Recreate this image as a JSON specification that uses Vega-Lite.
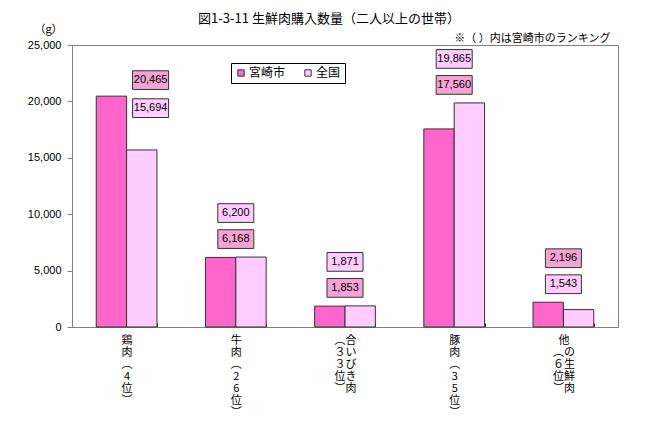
{
  "$schema": "https://vega.github.io/schema/vega-lite/v6.json",
  "width": 546,
  "height": 282,
  "padding": {"left": 27, "top": 13, "right": 5, "bottom": 5},
  "background": "white",
  "title": {
    "text": "図1-3-11 生鮮肉購入数量（二人以上の世帯）",
    "font": "Noto Sans CJK JP",
    "fontSize": 13,
    "fontWeight": "normal",
    "color": "#000",
    "dx": -16,
    "offset": -3
  },
  "data": {
    "values": [
      {"category": "鶏肉(4位)", "series": "宮崎市", "value": 20465},
      {"category": "鶏肉(4位)", "series": "全国", "value": 15694},
      {"category": "牛肉(26位)", "series": "宮崎市", "value": 6168},
      {"category": "牛肉(26位)", "series": "全国", "value": 6200},
      {"category": "合いびき肉(33位)", "series": "宮崎市", "value": 1853},
      {"category": "合いびき肉(33位)", "series": "全国", "value": 1871},
      {"category": "豚肉(35位)", "series": "宮崎市", "value": 17560},
      {"category": "豚肉(35位)", "series": "全国", "value": 19865},
      {"category": "他の生鮮肉(6位)", "series": "宮崎市", "value": 2196},
      {"category": "他の生鮮肉(6位)", "series": "全国", "value": 1543}
    ]
  },
  "resolve": {"axis": {"x": "independent", "y": "independent"}},
  "layer": [
    {
      "mark": {"type": "bar", "stroke": "#333333", "strokeWidth": 1},
      "encoding": {
        "x": {
          "field": "category", "type": "nominal", "sort": null,
          "scale": {"paddingInner": 0.444, "paddingOuter": 0.222},
          "axis": {
            "title": null,
            "labelAngle": 0,
            "labelBaseline": "top",
            "labelAlign": "center",
            "labelLineHeight": 12,
            "labelFont": "Noto Sans CJK JP",
            "labelFontSize": 11,
            "labelColor": "#000",
            "labelPadding": 11,
            "tickBand": "extent",
            "tickSize": -4,
            "tickColor": "#333333",
            "domainColor": "#808080",
            "labelExpr": "datum.value == null ? '' : datum.value === '合いびき肉(33位)' ? ['︵合','３い','３び','位き','︶肉'] : datum.value === '他の生鮮肉(6位)' ? ['　他','︵の','６生','位鮮','︶肉'] : split(replace(replace(datum.value, '(', '︵'), ')', '︶'), '')"
          }
        },
        "xOffset": {"field": "series", "type": "nominal", "sort": ["宮崎市", "全国"], "scale": {"paddingInner": 0}},
        "y": {
          "field": "value", "type": "quantitative",
          "scale": {"domain": [0, 25000], "nice": false},
          "axis": {
            "title": "（g）",
            "titleAngle": 0,
            "titleX": -24,
            "titleY": -16,
            "titleAlign": "center",
            "titleBaseline": "middle",
            "titleFont": "Noto Sans CJK JP",
            "titleFontSize": 11,
            "titleFontWeight": "normal",
            "titleColor": "#000",
            "values": [0, 5000, 10000, 15000, 20000, 25000],
            "format": ",d",
            "labelFont": "Liberation Sans",
            "labelFontSize": 11,
            "labelColor": "#000",
            "labelPadding": 6,
            "tickSize": 5,
            "tickColor": "#808080",
            "domainColor": "#808080",
            "grid": false
          }
        },
        "color": {
          "field": "series", "type": "nominal",
          "scale": {"domain": ["宮崎市", "全国"], "range": ["#FF66CC", "#FFCCFF"]},
          "legend": {
            "title": null,
            "orient": "none",
            "legendX": 159,
            "legendY": 18,
            "direction": "horizontal",
            "strokeColor": "#000",
            "fillColor": "#fff",
            "padding": 4,
            "symbolType": "square",
            "symbolSize": 40,
            "symbolStrokeColor": "#333",
            "symbolStrokeWidth": 1,
            "labelFont": "Noto Sans CJK JP",
            "labelFontSize": 12,
            "labelColor": "#000",
            "labelOffset": 2,
            "columnPadding": 16
          }
        }
      }
    },
    {
      "transform": [
        {"joinaggregate": [{"op": "max", "field": "value", "as": "maxv"}], "groupby": ["category"]},
        {"window": [{"op": "rank", "as": "rk"}], "sort": [{"field": "value", "order": "descending"}], "groupby": ["category"]}
      ],
      "encoding": {
        "x": {
          "field": "category", "type": "nominal", "sort": null,
          "axis": {
            "orient": "top",
            "title": "※（ ）内は宮崎市のランキング",
            "titleX": 538,
            "titleAlign": "right",
            "titleFont": "Noto Sans CJK JP",
            "titleFontSize": 11,
            "titleFontWeight": "normal",
            "titleColor": "#000",
            "titlePadding": 2,
            "labels": false,
            "ticks": false,
            "domain": false
          }
        },
        "y": {"field": "maxv", "type": "quantitative", "axis": null},
        "text": {"field": "value", "type": "quantitative", "format": ",d"}
      },
      "layer": [
        {
          "transform": [{"filter": "datum.category !== '鶏肉(4位)' && datum.rk === 1"}],
          "layer": [
            {"mark": {"type": "point", "shape": "M-1,-0.52H1V0.52H-1Z", "size": 1296, "filled": true, "opacity": 1, "stroke": "#333333", "strokeWidth": 1, "yOffset": -44},
             "encoding": {"fill": {"condition": {"test": "datum.series === '宮崎市'", "value": "#F5A3D5"}, "value": "#FFCCFF"}}},
            {"mark": {"type": "text", "font": "Liberation Sans", "fontSize": 11, "fill": "#000", "baseline": "middle", "yOffset": -44}}
          ]
        },
        {
          "transform": [{"filter": "datum.category !== '鶏肉(4位)' && datum.rk === 2"}],
          "layer": [
            {"mark": {"type": "point", "shape": "M-1,-0.52H1V0.52H-1Z", "size": 1296, "filled": true, "opacity": 1, "stroke": "#333333", "strokeWidth": 1, "yOffset": -18},
             "encoding": {"fill": {"condition": {"test": "datum.series === '宮崎市'", "value": "#F5A3D5"}, "value": "#FFCCFF"}}},
            {"mark": {"type": "text", "font": "Liberation Sans", "fontSize": 11, "fill": "#000", "baseline": "middle", "yOffset": -18}}
          ]
        },
        {
          "transform": [{"filter": "datum.category === '鶏肉(4位)' && datum.rk === 1"}],
          "layer": [
            {"mark": {"type": "point", "shape": "M-1,-0.52H1V0.52H-1Z", "size": 1296, "filled": true, "opacity": 1, "stroke": "#333333", "strokeWidth": 1, "yOffset": -16, "xOffset": 24},
             "encoding": {"fill": {"condition": {"test": "datum.series === '宮崎市'", "value": "#F5A3D5"}, "value": "#FFCCFF"}}},
            {"mark": {"type": "text", "font": "Liberation Sans", "fontSize": 11, "fill": "#000", "baseline": "middle", "yOffset": -16, "xOffset": 24}}
          ]
        },
        {
          "transform": [{"filter": "datum.category === '鶏肉(4位)' && datum.rk === 2"}],
          "layer": [
            {"mark": {"type": "point", "shape": "M-1,-0.52H1V0.52H-1Z", "size": 1296, "filled": true, "opacity": 1, "stroke": "#333333", "strokeWidth": 1, "yOffset": 12, "xOffset": 24},
             "encoding": {"fill": {"condition": {"test": "datum.series === '宮崎市'", "value": "#F5A3D5"}, "value": "#FFCCFF"}}},
            {"mark": {"type": "text", "font": "Liberation Sans", "fontSize": 11, "fill": "#000", "baseline": "middle", "yOffset": 12, "xOffset": 24}}
          ]
        }
      ]
    }
  ],
  "config": {
    "view": {"stroke": "#808080", "strokeWidth": 1},
    "font": "Noto Sans CJK JP"
  }
}
